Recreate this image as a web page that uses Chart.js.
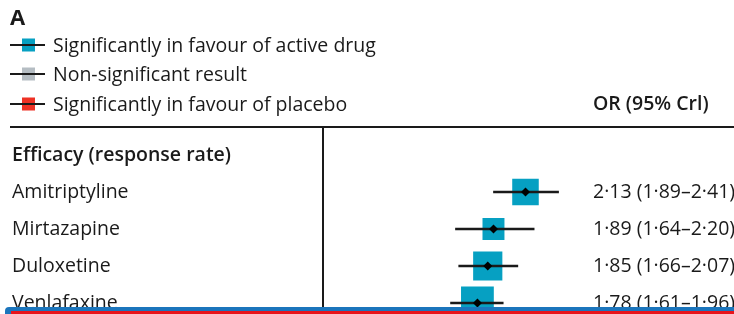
<!DOCTYPE html>
<html>
<head>
<meta charset="utf-8">
<script src="https://cdn.jsdelivr.net/npm/chart.js@4.4.1/dist/chart.umd.min.js"></script>
<style>
  html, body { margin: 0; padding: 0; background: #fff; }
  #wrap { position: relative; width: 734px; height: 314px; overflow: hidden; }
  #forest { display: block; }
  #bluebar { position: absolute; left: 5px; right: 0; top: 307px; height: 7px; background: #1b75bc; border-top-left-radius: 4px; }
  #redbar { position: absolute; left: 11px; right: 0; top: 311px; height: 3px; background: #e8141c; }
</style>
</head>
<body>
<div id="wrap">
  <canvas id="forest" width="734" height="340"></canvas>
  <div id="bluebar"></div>
  <div id="redbar"></div>
</div>
<script>
// Données
const panelLabel = 'A';
const sectionLabel = 'Efficacy (response rate)';
const drugs = ['Amitriptyline', 'Mirtazapine', 'Duloxetine', 'Venlafaxine'];
const oddsRatio = [2.13, 1.89, 1.85, 1.78];
const ciLower = [1.89, 1.64, 1.66, 1.61];
const ciUpper = [2.41, 2.20, 2.07, 1.96];
const legendLabels = [
    'Significantly in favour of active drug',
    'Non-significant result',
    'Significantly in favour of placebo'
];
const columnHeader = 'OR (95% Crl)';

const TEAL = '#06a0c2';
const GREY = '#b5bdc3';
const RED = '#ee3124';
const INK = '#1a1a1a';
const FONT = '"Open Sans", sans-serif';
const SIZE = 19.5;

// Ligne d'en-tête + une ligne par médicament
const rows = [sectionLabel].concat(drugs);
const pad = (arr) => [null].concat(arr);

function sigColour(lo, hi) {
    if (lo > 1) return TEAL;
    if (hi < 1) return RED;
    return GREY;
}

function fmt(v) {
    return v.toFixed(2).replace('.', '\u00b7');
}

// Textes, légende et filets
const decorPlugin = {
    id: 'decor',
    afterDraw(chart) {
        const c = chart.ctx;
        const xs = chart.scales.x;
        const ys = chart.scales.y;
        c.save();
        c.fillStyle = INK;

        c.font = 'bold 22px ' + FONT;
        c.textBaseline = 'alphabetic';
        c.textAlign = 'left';
        c.fillText(panelLabel, 10, 25);

        const legendColours = [TEAL, GREY, RED];
        const legendY = [45, 74, 104];
        c.font = SIZE + 'px ' + FONT;
        legendLabels.forEach((lab, i) => {
            const y = legendY[i];
            c.fillStyle = legendColours[i];
            c.fillRect(22, y - 6.5, 13, 13);
            c.strokeStyle = INK;
            c.lineWidth = 2;
            c.beginPath();
            c.moveTo(10, y);
            c.lineTo(45, y);
            c.stroke();
            c.fillStyle = INK;
            c.fillText(lab, 53, y + 7);
        });

        c.font = '600 ' + SIZE + 'px ' + FONT;
        c.fillText(columnHeader, 593, 110);

        // filet horizontal et ligne OR = 1
        c.strokeStyle = INK;
        c.lineWidth = 2;
        c.beginPath();
        c.moveTo(10, 127);
        c.lineTo(chart.width, 127);
        const x1 = Math.round(xs.getPixelForValue(1));
        c.moveTo(x1, 127);
        c.lineTo(x1, chart.height);
        c.stroke();

        // OR (IC) à droite
        c.font = SIZE + 'px ' + FONT;
        c.textBaseline = 'middle';
        drugs.forEach((d, i) => {
            const y = ys.getPixelForValue(i + 1);
            c.fillText(fmt(oddsRatio[i]) + ' (' + fmt(ciLower[i]) + '\u2013' + fmt(ciUpper[i]) + ')', 593, y);
        });
        c.restore();
    }
};

const ctx = document.getElementById('forest').getContext('2d');
const chart = new Chart(ctx, {
    type: 'bar',
    data: {
        labels: rows,
        datasets: [{
            type: 'scatter',
            label: 'OR',
            data: pad(oddsRatio),
            pointStyle: 'rectRot',
            pointRadius: 4.5,
            pointHoverRadius: 4.5,
            pointBackgroundColor: '#000',
            pointBorderWidth: 0,
            order: 0
        }, {
            label: '95% CrI',
            data: pad(ciLower.map((lo, i) => [lo, ciUpper[i]])),
            backgroundColor: INK,
            borderWidth: 0,
            barThickness: 2,
            order: 1
        }, {
            type: 'scatter',
            label: 'weight',
            data: pad(oddsRatio),
            pointStyle: 'rect',
            // côté du carré inversement proportionnel à la largeur de l'IC (échelle log)
            pointRadius: (c) => {
                const i = c.dataIndex - 1;
                if (i < 0) return 0;
                return (6.45 / Math.log(ciUpper[i] / ciLower[i])) / (2 * Math.SQRT1_2);
            },
            pointBackgroundColor: (c) => {
                const i = c.dataIndex - 1;
                return i < 0 ? GREY : sigColour(ciLower[i], ciUpper[i]);
            },
            pointBorderWidth: 0,
            order: 2
        }]
    },
    options: {
        indexAxis: 'y',
        responsive: false,
        animation: false,
        devicePixelRatio: 1,
        layout: { autoPadding: false, padding: { left: 12, right: 0, top: 136.5, bottom: 18.5 } },
        plugins: { legend: { display: false }, tooltip: { enabled: false } },
        scales: {
            x: {
                type: 'logarithmic',
                bounds: 'data',
                min: 1,
                max: 4.64,
                display: false
            },
            y: {
                type: 'category',
                offset: true,
                grid: { display: false },
                border: { display: false },
                afterFit: (s) => { s.width = 311; },
                ticks: {
                    crossAlign: 'far',
                    color: INK,
                    font: (c) => ({ family: FONT, size: SIZE, weight: c.index === 0 ? '600' : 'normal' })
                }
            }
        }
    },
    plugins: [decorPlugin]
});
</script>
</body>
</html>
